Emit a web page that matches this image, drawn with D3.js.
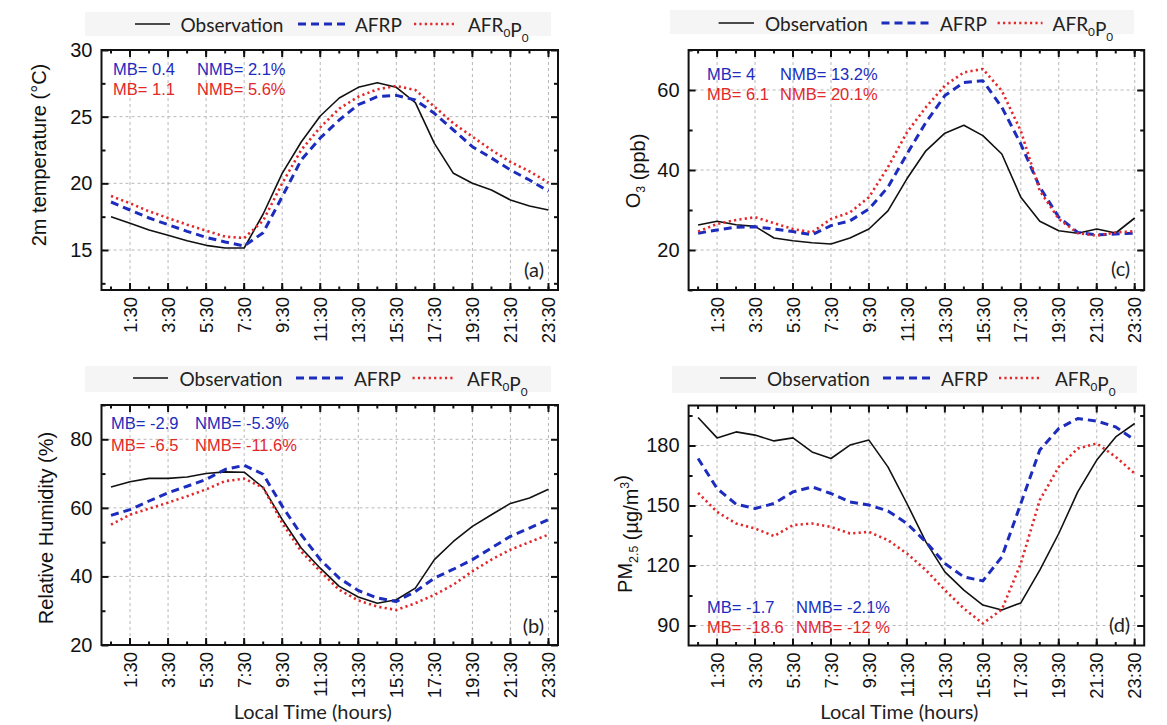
<!DOCTYPE html>
<html>
<head>
<meta charset="utf-8">
<script src="https://cdn.jsdelivr.net/npm/d3@7/dist/d3.min.js"></script>
<style>
  body { margin: 0; background: #fff; }
  svg { display: block; }
</style>
</head>
<body>
<div id="chart"></div>
<script>
// half-hour time stamps on the x axis
var timeLabels = ["0:30", "1:30", "2:30", "3:30", "4:30", "5:30", "6:30", "7:30", "8:30", "9:30", "10:30", "11:30",
    "12:30", "13:30", "14:30", "15:30", "16:30", "17:30", "18:30", "19:30", "20:30", "21:30", "22:30", "23:30"];
var shownLabels = ["1:30", "3:30", "5:30", "7:30", "9:30", "11:30", "13:30", "15:30", "17:30", "19:30", "21:30", "23:30"];

// (a) 2m temperature
var tempObs = [17.5, 17.0, 16.5, 16.1, 15.7, 15.35, 15.15, 15.15, 17.7, 20.75, 23.1, 25.05, 26.4, 27.2, 27.55, 27.2, 26.05, 23.0, 20.75, 20.0, 19.5, 18.75, 18.3, 18.0];
var tempAFRP = [18.6, 18.0, 17.4, 16.9, 16.4, 15.95, 15.6, 15.3, 16.3, 19.0, 21.75, 23.4, 24.75, 25.9, 26.5, 26.6, 26.25, 25.25, 24.0, 22.75, 21.9, 21.0, 20.25, 19.4];
var tempAFR0P0 = [19.05, 18.5, 17.9, 17.4, 16.9, 16.45, 16.0, 15.9, 17.2, 20.0, 22.5, 24.2, 25.6, 26.5, 27.05, 27.3, 27.0, 25.75, 24.5, 23.5, 22.5, 21.6, 20.9, 20.05];

// (b) relative humidity
var rhObs = [66.1, 67.6, 68.6, 68.6, 69.0, 70.0, 70.5, 70.4, 65.9, 56.6, 48.3, 42.4, 37.1, 34.0, 32.2, 33.2, 36.6, 44.9, 50.2, 54.6, 58.0, 61.3, 62.9, 65.4];
var rhAFRP = [57.8, 59.5, 62.0, 64.4, 66.3, 68.3, 71.2, 72.4, 69.8, 60.5, 52.2, 44.9, 39.5, 35.9, 33.7, 32.7, 35.6, 39.5, 42.1, 44.9, 48.3, 51.7, 54.1, 56.6];
var rhAFR0P0 = [55.1, 58.0, 59.8, 61.5, 63.4, 65.4, 67.8, 68.5, 65.9, 55.6, 47.3, 41.5, 36.1, 33.0, 31.2, 30.2, 32.2, 34.6, 37.6, 41.5, 44.9, 47.8, 50.0, 52.2];

// (c) ozone
var o3Obs = [26.25, 27.2, 26.3, 25.9, 23.0, 22.3, 21.8, 21.5, 23.0, 25.25, 29.8, 37.8, 44.8, 49.2, 51.2, 48.6, 44.0, 33.2, 27.2, 24.8, 24.2, 25.25, 24.25, 28.0];
var o3AFRP = [24.2, 25.0, 25.7, 25.8, 25.25, 24.6, 23.8, 26.1, 27.3, 30.25, 35.7, 44.0, 51.9, 58.6, 61.9, 62.3, 55.7, 46.5, 35.7, 28.2, 24.4, 23.8, 24.0, 24.2];
var o3AFR0P0 = [24.6, 26.5, 27.5, 28.2, 26.7, 25.25, 24.4, 27.75, 29.4, 33.2, 40.7, 49.4, 55.7, 61.1, 64.4, 65.25, 59.8, 49.8, 34.8, 27.75, 24.2, 23.6, 24.4, 24.7];

// (d) PM2.5
var pmObs = [194, 183.8, 186.8, 185.2, 182.3, 183.8, 176.8, 173.5, 180.2, 182.7, 169.3, 151, 131.8, 116.8, 107.7, 100.2, 97.7, 101.3, 117.7, 136, 156.8, 172.7, 184.3, 191];
var pmAFRP = [173.5, 158.5, 150.7, 148.5, 151, 156.8, 159.3, 156, 151.8, 150.2, 147.3, 141, 131.8, 121, 114.3, 112.3, 124.3, 151, 177.7, 188.5, 193.5, 192.2, 189.3, 182.7];
var pmAFR0P0 = [156.3, 146.8, 141, 138.5, 134.7, 140.2, 141, 139.3, 136, 136.8, 132.7, 126, 117.7, 107.7, 98.5, 91, 98, 121, 152.7, 169.3, 178.5, 181, 174.3, 166];

// y ticks
var tempMajor = [15, 20, 25, 30], tempMinor = [12.5, 17.5, 22.5, 27.5];
var rhMajor = [20, 40, 60, 80], rhMinor = [30, 50, 70, 90];
var o3Major = [20, 40, 60], o3Minor = [10, 30, 50, 70];
var pmMajor = [90, 120, 150, 180], pmMinor = [105, 135, 165, 195];

// statistics text
var tempStats = [["MB= 0.4", "NMB= 2.1%"], ["MB= 1.1", "NMB= 5.6%"]];
var rhStats = [["MB= -2.9", "NMB= -5.3%"], ["MB= -6.5", "NMB= -11.6%"]];
var o3Stats = [["MB= 4", "NMB= 13.2%"], ["MB= 6.1", "NMB= 20.1%"]];
var pmStats = [["MB= -1.7", "NMB= -2.1%"], ["MB= -18.6", "NMB= -12 %"]];

var BLUE = "#1c2cbd", RED = "#e2282a";
var ARIAL = "'Liberation Sans', Arial, sans-serif";
var CALI = "Lato, 'Open Sans', sans-serif";

var styles = [
    {stroke: "#111", width: 1.6, dash: null},
    {stroke: BLUE, width: 3, dash: "8,5"},
    {stroke: RED, width: 2.6, dash: "2.2,3.2"}
];

var svg = d3.select("#chart").append("svg")
    .attr("width", 1167)
    .attr("height", 725);

function rich(sel, parts, size) {
    // parts: [text, "sub" | "sup" | null]
    parts.forEach(function (p) {
        var t = sel.append("tspan").text(p[0]);
        if (p[1] == "sub") {
            t.attr("font-size", size * 0.62).attr("dy", size * 0.28);
            sel.append("tspan").attr("dy", -size * 0.28).text("");
        } else if (p[1] == "sup") {
            t.attr("font-size", size * 0.62).attr("dy", -size * 0.42);
            sel.append("tspan").attr("dy", size * 0.42).text("");
        }
    });
}

function drawPanel(p) {
    var g = svg.append("g");
    var x = d3.scaleBand().domain(timeLabels).range([p.left, p.right]);
    var y = d3.scaleLinear().domain(p.domain).range([p.bottom, p.top]);
    var cx = function (d) { return x(d) + x.bandwidth() / 2; };

    // legend
    var lg = svg.append("g");
    lg.append("rect")
        .attr("x", p.legend.box[0]).attr("y", p.legend.box[1])
        .attr("width", p.legend.box[2]).attr("height", p.legend.box[3])
        .attr("fill", "#f5f5f5");
    var names = [[["Observation", null]], [["AFRP", null]], [["AFR", null], ["0", "sub"], ["P", null], ["0", "sub"]]];
    p.legend.items.forEach(function (it, i) {
        var s = styles[i];
        lg.append("line")
            .attr("x1", it[0]).attr("x2", it[1])
            .attr("y1", p.legend.y).attr("y2", p.legend.y)
            .attr("stroke", s.stroke)
            .attr("stroke-width", i == 0 ? 1.4 : s.width)
            .attr("stroke-dasharray", s.dash);
        var t = lg.append("text")
            .attr("x", it[2]).attr("y", p.legend.y + 7.5)
            .attr("font-family", CALI).attr("font-size", 19)
            .attr("fill", "#222");
        rich(t, names[i], 19);
    });

    // grid
    g.append("g").selectAll("line").data(shownLabels).enter().append("line")
        .attr("x1", cx).attr("x2", cx)
        .attr("y1", p.top).attr("y2", p.bottom)
        .attr("stroke", "#b8b8b8").attr("stroke-width", 1)
        .attr("stroke-dasharray", "3,3");
    g.append("g").selectAll("line").data(p.major).enter().append("line")
        .attr("x1", p.left).attr("x2", p.right)
        .attr("y1", y).attr("y2", y)
        .attr("stroke", "#b8b8b8").attr("stroke-width", 1)
        .attr("stroke-dasharray", "3,3");

    // series
    var line = d3.line()
        .x(function (d, i) { return cx(timeLabels[i]); })
        .y(function (d) { return y(d); });
    p.series.forEach(function (arr, i) {
        var s = styles[i];
        g.append("path")
            .datum(arr)
            .attr("d", line)
            .attr("fill", "none")
            .attr("stroke", s.stroke)
            .attr("stroke-width", s.width)
            .attr("stroke-dasharray", s.dash)
            .attr("stroke-linejoin", "round");
    });

    // axes (ticks pointing inward)
    var h = p.bottom - p.top;
    g.append("g").attr("transform", "translate(0," + p.bottom + ")")
        .call(d3.axisBottom(x).tickSize(-3.5).tickFormat(""));
    var bottomMajor = g.append("g").attr("transform", "translate(0," + p.bottom + ")")
        .call(d3.axisBottom(x).tickValues(shownLabels).tickSize(-7).tickPadding(7));
    bottomMajor.selectAll("text")
        .attr("transform", "rotate(-90)")
        .attr("text-anchor", "end")
        .attr("x", -7).attr("y", 0).attr("dy", "0.36em")
        .attr("font-family", ARIAL).attr("font-size", 18.5).attr("fill", "#111");
    g.append("g").attr("transform", "translate(0," + p.top + ")")
        .call(d3.axisTop(x).tickSize(-3.5).tickFormat(""));
    g.append("g").attr("transform", "translate(0," + p.top + ")")
        .call(d3.axisTop(x).tickValues(shownLabels).tickSize(-7).tickFormat(""));

    var leftMajor = g.append("g").attr("transform", "translate(" + p.left + ",0)")
        .call(d3.axisLeft(y).tickValues(p.major).tickSize(-7).tickPadding(9));
    leftMajor.selectAll("text")
        .attr("font-family", ARIAL).attr("font-size", 20).attr("fill", "#111");
    g.append("g").attr("transform", "translate(" + p.left + ",0)")
        .call(d3.axisLeft(y).tickValues(p.minor).tickSize(-4).tickFormat(""));
    g.append("g").attr("transform", "translate(" + p.right + ",0)")
        .call(d3.axisRight(y).tickValues(p.major).tickSize(-7).tickFormat(""));
    g.append("g").attr("transform", "translate(" + p.right + ",0)")
        .call(d3.axisRight(y).tickValues(p.minor).tickSize(-4).tickFormat(""));
    g.selectAll(".domain").remove();
    g.selectAll(".tick line").attr("stroke", "#111").attr("stroke-width", 2);

    g.append("rect")
        .attr("x", p.left).attr("y", p.top)
        .attr("width", p.right - p.left).attr("height", h)
        .attr("fill", "none").attr("stroke", "#111").attr("stroke-width", 2);

    // y title
    var yt = g.append("text")
        .attr("transform", "translate(" + p.titleX + "," + p.titleY + ") rotate(-90)")
        .attr("text-anchor", "middle")
        .attr("font-family", ARIAL).attr("font-size", 20).attr("fill", "#111");
    rich(yt, p.title, 20);

    // MB / NMB
    p.stats.forEach(function (row, i) {
        var col = i == 0 ? BLUE : RED;
        row.forEach(function (txt, j) {
            g.append("text")
                .attr("x", p.statX[j]).attr("y", p.statY[i])
                .attr("font-family", ARIAL).attr("font-size", 16.5)
                .attr("fill", col).text(txt);
        });
    });

    g.append("text")
        .attr("x", p.right - 14).attr("y", p.tagY)
        .attr("text-anchor", "end")
        .attr("font-family", CALI).attr("font-size", 20).attr("fill", "#222")
        .text(p.tag);

    if (p.xTitle) {
        g.append("text")
            .attr("x", (p.left + p.right) / 2 + p.xTitleDx).attr("y", 719)
            .attr("text-anchor", "middle")
            .attr("font-family", CALI).attr("font-size", 20).attr("fill", "#222")
            .text("Local Time (hours)");
    }
}

drawPanel({
    left: 101.5, right: 558, top: 50, bottom: 290, domain: [12, 30],
    major: tempMajor, minor: tempMinor,
    series: [tempObs, tempAFRP, tempAFR0P0],
    title: [["2m temperature (°C)", null]], titleX: 46, titleY: 155,
    stats: tempStats, statX: [113, 197], statY: [74.5, 95],
    tag: "(a)", tagY: 277,
    legend: {box: [85, 12, 466, 24], y: 24, items: [[135, 170, 180.5], [298, 346, 355], [414, 457, 468]]}
});
drawPanel({
    left: 101.5, right: 558, top: 405, bottom: 645, domain: [20, 90],
    major: rhMajor, minor: rhMinor,
    series: [rhObs, rhAFRP, rhAFR0P0],
    title: [["Relative Humidity (%)", null]], titleX: 53, titleY: 528,
    stats: rhStats, statX: [111, 195], statY: [429, 450.5],
    tag: "(b)", tagY: 633,
    legend: {box: [85, 366, 466, 26], y: 378, items: [[133, 168, 179.5], [296, 344, 354], [412.5, 455, 467]]},
    xTitle: true, xTitleDx: -17
});
drawPanel({
    left: 688.6, right: 1144.2, top: 50, bottom: 290, domain: [10, 70],
    major: o3Major, minor: o3Minor,
    series: [o3Obs, o3AFRP, o3AFR0P0],
    title: [["O", null], ["3", "sub"], [" (ppb)", null]], titleX: 639.5, titleY: 171,
    stats: o3Stats, statX: [707, 780], statY: [79.5, 100],
    tag: "(c)", tagY: 276,
    legend: {box: [670, 10, 464, 24], y: 23, items: [[718.6, 754, 765], [881.5, 930, 940], [997.6, 1042.5, 1052.6]]}
});
drawPanel({
    left: 688.6, right: 1144.2, top: 405.5, bottom: 645.5, domain: [80, 200],
    major: pmMajor, minor: pmMinor,
    series: [pmObs, pmAFRP, pmAFR0P0],
    title: [["PM", null], ["2.5", "sub"], [" (µg/m", null], ["3", "sup"], [")", null]], titleX: 632, titleY: 534,
    stats: pmStats, statX: [707, 796], statY: [612.5, 633],
    tag: "(d)", tagY: 632,
    legend: {box: [672, 366, 465, 27], y: 378, items: [[720, 756, 767], [883, 932, 941], [999, 1042, 1055]]},
    xTitle: true, xTitleDx: -17
});
</script>
</body>
</html>
